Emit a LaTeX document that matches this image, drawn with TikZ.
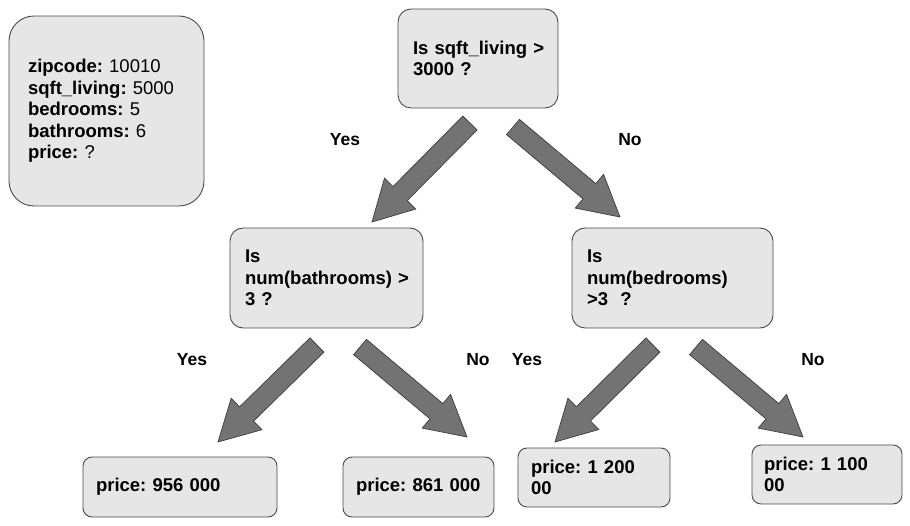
\documentclass[tikz,border=0pt]{standalone}
\usepackage{fontspec}
\setmainfont{Liberation Sans}
\usetikzlibrary{calc}
\definecolor{boxfill}{HTML}{E6E6E6}
\definecolor{boxline}{HTML}{4A4A4A}
\definecolor{arrfill}{HTML}{737373}
\definecolor{arrline}{HTML}{3C3C3C}
\tikzset{
  box/.style={draw=boxline, fill=boxfill, line width=0.9pt, align=left,
    font=\fontsize{18.5}{21.6}\selectfont\frenchspacing, inner ysep=0pt},
  lbl/.style={font=\fontsize{17.5}{20}\selectfont\bfseries, inner sep=0pt},
  blockarr/.style={draw=arrline, fill=arrfill, line width=0.7pt, line join=miter},
}
\newcommand\blockarrow[3]{%
  \coordinate (#1h) at ($(#3)!40pt!(#2)$);
  \draw[blockarr] ($(#2)!10pt!90:(#3)$) -- ($(#1h)!10pt!90:(#3)$) -- ($(#1h)!22pt!90:(#3)$) -- (#3) -- ($(#1h)!22pt!-90:(#3)$) -- ($(#1h)!10pt!-90:(#3)$) -- ($(#2)!10pt!-90:(#3)$) -- cycle;}
\begin{document}
\begin{tikzpicture}[x=1pt,y=-1pt]
\useasboundingbox (0,0) rectangle (910,526);
% boxes
\node[box, rounded corners=25pt, minimum width=195pt, minimum height=190pt, inner xsep=19pt, text width=157pt]
  (info) at (106.5,111) {\mbox{\textbf{zipcode:} 10010}\\\mbox{\textbf{sqft\_living:} 5000}\\\mbox{\textbf{bedrooms:} 5}\\\mbox{\textbf{bathrooms:} 6}\\\mbox{\textbf{price:} ?}};
\node[box, rounded corners=13pt, minimum width=160pt, minimum height=99pt, inner xsep=15pt, text width=130pt]
  (root) at (478,58.5) {\mbox{\textbf{Is sqft\_living >}}\\\mbox{\textbf{3000 ?}}};
\node[box, rounded corners=13pt, minimum width=193pt, minimum height=100pt, inner xsep=15pt, text width=163pt]
  (qbath) at (326.5,278) {\mbox{\textbf{Is}}\\\mbox{\textbf{num(bathrooms) >}}\\\mbox{\textbf{3 ?}}};
\node[box, rounded corners=13pt, minimum width=201pt, minimum height=100pt, inner xsep=15pt, text width=171pt]
  (qbed) at (672.5,278) {\mbox{\textbf{Is}}\\\mbox{\textbf{num(bedrooms)}}\\\mbox{\textbf{>3\ \ ?}}};
\node[box, rounded corners=9pt, minimum width=194pt, minimum height=60pt, inner xsep=13pt, text width=168pt]
  (p1) at (180,487) {\mbox{\textbf{price: 956 000}}};
\node[box, rounded corners=9pt, minimum width=151pt, minimum height=60pt, inner xsep=13pt, text width=125pt]
  (p2) at (418.5,487) {\mbox{\textbf{price: 861 000}}};
\node[box, rounded corners=9pt, minimum width=152pt, minimum height=59pt, inner xsep=13pt, text width=126pt]
  (p3) at (594,477.5) {\mbox{\textbf{price: 1 200}}\\\mbox{\textbf{00}}};
\node[box, rounded corners=9pt, minimum width=150pt, minimum height=59pt, inner xsep=12pt, text width=126pt]
  (p4) at (827,474.5) {\mbox{\textbf{price: 1 100}}\\\mbox{\textbf{00}}};
% labels
\node[lbl] (y1) at (345,140) {Yes};
\node[lbl] (n1) at (630,140) {No};
\node[lbl] (y2) at (192,360) {Yes};
\node[lbl] (n2) at (478,360) {No};
\node[lbl] (y3) at (527,360) {Yes};
\node[lbl] (n3) at (813,360) {No};
% arrow end points
\coordinate (a1s) at (470,123); \coordinate (a1e) at (372,222);
\coordinate (a2s) at (513,127); \coordinate (a2e) at (620,217);
\coordinate (a3s) at (317,345); \coordinate (a3e) at (218,442);
\coordinate (a4s) at (360,347); \coordinate (a4e) at (467,437);
\coordinate (a5s) at (653,345); \coordinate (a5e) at (555,442);
\coordinate (a6s) at (696,347); \coordinate (a6e) at (803,437);
\blockarrow{a1}{a1s}{a1e}
\blockarrow{a2}{a2s}{a2e}
\blockarrow{a3}{a3s}{a3e}
\blockarrow{a4}{a4s}{a4e}
\blockarrow{a5}{a5s}{a5e}
\blockarrow{a6}{a6s}{a6e}
\end{tikzpicture}
\end{document}
